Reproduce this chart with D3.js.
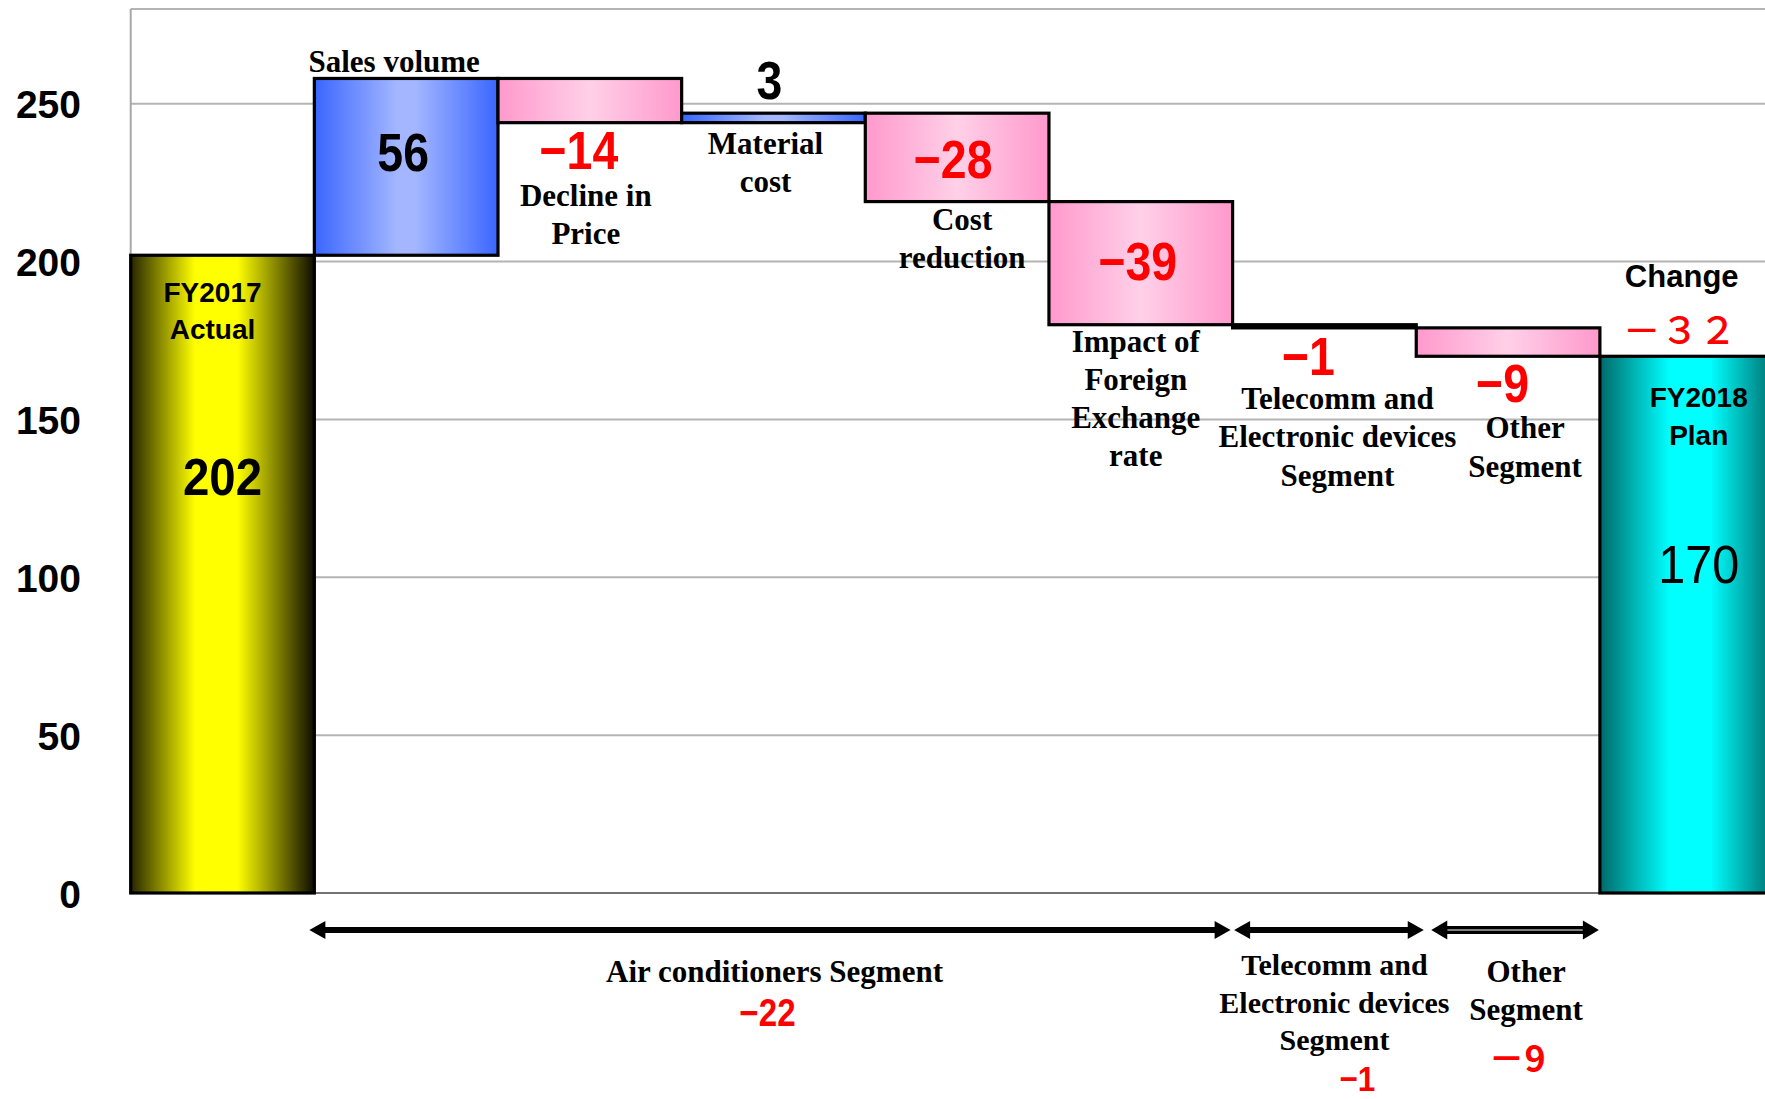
<!DOCTYPE html>
<html>
<head>
<meta charset="utf-8">
<script src="https://cdn.jsdelivr.net/npm/d3@7"></script>
<style>
  html, body { margin: 0; padding: 0; background: #ffffff; }
  svg { display: block; }
</style>
</head>
<body>
<script>
// ---------------- DATA ----------------
const categories = [
  "FY2017 Actual", "Sales volume", "Decline in Price", "Material cost",
  "Cost reduction", "Impact of Foreign Exchange rate",
  "Telecomm and Electronic devices Segment", "Other Segment", "FY2018 Plan"
];
const values = [202, 56, -14, 3, -28, -39, -1, -9, 170];
const kinds = ["total", "delta", "delta", "delta", "delta", "delta", "delta", "delta", "total"];
const categoryLines = [
  ["FY2017", "Actual"], ["Sales volume"], ["Decline in", "Price"], ["Material", "cost"],
  ["Cost", "reduction"], ["Impact of", "Foreign", "Exchange", "rate"],
  ["Telecomm and", "Electronic devices", "Segment"], ["Other", "Segment"], ["FY2018", "Plan"]
];
const yTicks = [0, 50, 100, 150, 200, 250];
const yMax = 280;

const segmentLines = [["Air conditioners Segment"], ["Telecomm and", "Electronic devices", "Segment"], ["Other", "Segment"]];
const segmentValues = [-22, -1, -9];
const segmentStart = [1, 6, 7];
const segmentEnd = [5, 6, 7];

const changeTitle = "Change";
const changeLabel = "－３２";

// ---------------- LAYOUT ----------------
const W = 1765, H = 1099;
const plotLeft = 130.7, plotTop = 9, plotBottom = 893;
const step = 183.65;

const svg = d3.select("body").append("svg").attr("width", W).attr("height", H)
  .style("background", "#fff");

const x = d3.scaleBand().domain(categories)
  .range([plotLeft, plotLeft + step * categories.length]).padding(0);
const y = d3.scaleLinear().domain([0, yMax]).range([plotBottom, plotTop]);

// gradients
const defs = svg.append("defs");
function grad(id, stops) {
  const g = defs.append("linearGradient").attr("id", id)
    .attr("x1", "0%").attr("x2", "100%").attr("y1", "0%").attr("y2", "0%");
  stops.forEach(s => g.append("stop").attr("offset", s[0]).attr("stop-color", s[1]));
}
grad("gYellow", [["0%", "#262600"], ["35%", "#ffff00"], ["58%", "#ffff00"], ["100%", "#0d0d00"]]);
grad("gCyan", [["0%", "#006a6a"], ["38%", "#00ffff"], ["60%", "#00ffff"], ["100%", "#005a5a"]]);
grad("gBlue", [["0%", "#3a66ff"], ["45%", "#a3b6ff"], ["55%", "#a3b6ff"], ["100%", "#3a66ff"]]);
grad("gPink", [["0%", "#ff99cc"], ["50%", "#ffd0e8"], ["100%", "#ff99cc"]]);

// gridlines
const grid = svg.append("g");
grid.selectAll("line.grid").data(yTicks.filter(t => t > 0).concat([yMax])).join("line")
  .attr("x1", plotLeft).attr("x2", W)
  .attr("y1", d => y(d)).attr("y2", d => y(d))
  .attr("stroke", "#b4b4b4").attr("stroke-width", 2);
// left border
grid.append("line").attr("x1", plotLeft).attr("x2", plotLeft)
  .attr("y1", y(yMax)).attr("y2", y(0)).attr("stroke", "#a8a8a8").attr("stroke-width", 2);
// base axis
grid.append("line").attr("x1", plotLeft).attr("x2", W)
  .attr("y1", y(0)).attr("y2", y(0)).attr("stroke", "#444").attr("stroke-width", 1.5);

// y axis labels via d3.axisLeft
const yAxis = d3.axisLeft(y).tickValues(yTicks).tickSize(0).tickPadding(0);
const yAxisG = svg.append("g").attr("transform", `translate(81,0)`).call(yAxis);
yAxisG.select(".domain").remove();
yAxisG.selectAll("text")
  .attr("font-family", "'Liberation Sans', Arial, sans-serif")
  .attr("font-weight", "bold").attr("font-size", 39).attr("fill", "#000")
  .attr("dy", "0.36em");

// compute waterfall extents
let cum = 0;
const bars = values.map((v, i) => {
  let lo, hi;
  if (kinds[i] === "total") { lo = 0; hi = v; cum = v; }
  else { const a = cum, b = cum + v; lo = Math.min(a, b); hi = Math.max(a, b); cum = b; }
  return { cat: categories[i], v, lo, hi, kind: kinds[i], i };
});

function fillOf(d) {
  if (d.kind === "total") return d.i === 0 ? "url(#gYellow)" : "url(#gCyan)";
  return d.v >= 0 ? "url(#gBlue)" : "url(#gPink)";
}

svg.append("g").selectAll("rect.bar").data(bars).join("rect")
  .attr("x", d => x(d.cat))
  .attr("width", x.bandwidth())
  .attr("y", d => y(d.hi))
  .attr("height", d => Math.max(0.5, y(d.lo) - y(d.hi)))
  .attr("fill", fillOf)
  .attr("stroke", "#000").attr("stroke-width", 3.2);

// ---------------- TEXT ----------------
const serif = "'Liberation Serif', 'Times New Roman', serif";
const sans = "'Liberation Sans', Arial, sans-serif";
const cjk = "'Noto Sans CJK JP', 'Noto Sans CJK SC', sans-serif";
const T = svg.append("g");

function txt(str, cx, by, opts) {
  const o = Object.assign({ size: 31, family: serif, weight: "bold", color: "#000", sx: 1 }, opts || {});
  return T.append("text")
    .attr("transform", `translate(${cx},${by}) scale(${o.sx},1)`)
    .attr("text-anchor", "middle")
    .attr("font-family", o.family).attr("font-weight", o.weight)
    .attr("font-size", o.size).attr("fill", o.color)
    .text(str);
}
function lines(arr, cx, by, lh, opts) {
  arr.forEach((s, k) => txt(s, cx, by + k * lh, opts));
}
function valStr(v) { return v < 0 ? "\u2212" + Math.abs(v) : String(v); }
const cxOf = i => x(categories[i]) + x.bandwidth() / 2;

// value labels and category labels for deltas (offsets relative to bar edges)
const deltaLayout = {
  1: { vdx: -3, vref: "hi", vdy: 93, ldx: -12, lref: "hi", ldy: -6.5 },
  2: { vdx: -11, vref: "lo", vdy: 46, ldx: -4, lref: "lo", ldy: 83 },
  3: { vdx: -4, vref: "hi", vdy: -14, ldx: -8, lref: "lo", ldy: 31.5 },
  4: { vdx: -4, vref: "hi", vdy: 65, ldx: 5, lref: "lo", ldy: 28.5 },
  5: { vdx: -3, vref: "hi", vdy: 78.5, ldx: -5, lref: "lo", ldy: 27.5 },
  6: { vdx: -16, vref: "lo", vdy: 47, ldx: 13, lref: "lo", ldy: 81, lh: 38.5 },
  7: { vdx: -5.5, vref: "lo", vdy: 45.5, ldx: 17, lref: "lo", ldy: 82, lh: 38.5 }
};
bars.forEach(d => {
  const L = deltaLayout[d.i];
  if (!L) return;
  const cx = cxOf(d.i);
  const vEdge = y(L.vref === "hi" ? d.hi : d.lo);
  txt(valStr(d.v), cx + L.vdx, vEdge + L.vdy,
      { family: sans, weight: "bold", size: 54, sx: 0.86, color: d.v < 0 ? "#ff0000" : "#000" });
  const lEdge = y(L.lref === "hi" ? d.hi : d.lo);
  lines(categoryLines[d.i], cx + L.ldx, lEdge + L.ldy, L.lh || 38);
});

// totals
{
  const d0 = bars[0], cx0 = cxOf(0);
  lines(categoryLines[0], cx0 - 10, y(d0.hi) + 47, 37, { family: sans, size: 28 });
  txt(String(d0.v), cx0, y(d0.hi) + 240, { family: sans, size: 51, sx: 0.93 });
  const d8 = bars[8], cx8 = cxOf(8);
  lines(categoryLines[8], cx8 + 7, y(d8.hi) + 51, 38, { family: sans, size: 28, weight: "bold" });
  txt(String(d8.v), cx8 + 7, y(d8.hi) + 227, { family: sans, size: 54, weight: "normal", sx: 0.9 });
  txt(changeTitle, cx8 - 10, y(d8.hi) - 69, { family: sans, size: 32, weight: "bold", sx: 0.97 });
  txt(changeLabel, cx8 - 12, y(d8.hi) - 12, { family: cjk, size: 38, weight: 500, color: "#ff0000" });
}

// ---------------- SEGMENT ARROWS ----------------
const arrowY = 930;
const arrowAdj = [[-5, -2], [1.5, 7.5], [15, -1]];
const A = svg.append("g");
segmentStart.forEach((s, k) => {
  const x1 = x(categories[s]) + arrowAdj[k][0];
  const x2 = x(categories[segmentEnd[k]]) + x.bandwidth() + arrowAdj[k][1];
  const hl = 16, hw = k === 2 ? 9.5 : 9;
  const sw = k === 2 ? 8 : 6;
  A.append("line").attr("x1", x1 + hl - 1).attr("x2", x2 - hl + 1)
    .attr("y1", arrowY).attr("y2", arrowY).attr("stroke", "#000").attr("stroke-width", sw);
  if (k === 2) {
    A.append("line").attr("x1", x1 + hl).attr("x2", x2 - hl)
      .attr("y1", arrowY).attr("y2", arrowY).attr("stroke", "#fff").attr("stroke-width", 1.2);
  }
  A.append("path").attr("d", `M${x1},${arrowY} L${x1 + hl},${arrowY - hw} L${x1 + hl},${arrowY + hw} Z`).attr("fill", "#000");
  A.append("path").attr("d", `M${x2},${arrowY} L${x2 - hl},${arrowY - hw} L${x2 - hl},${arrowY + hw} Z`).attr("fill", "#000");
});

// segment labels
const segLayout = [
  { cdx: 1, by: 982, vdx: -7, vby: 1026, vsize: 39, vfam: sans, vsx: 0.85, vw: "bold" },
  { cdx: 10, by: 975, vdx: 23, vby: 1091, vsize: 35, vfam: sans, vsx: 0.9, vw: "bold", lh: 37.5, size: 30 },
  { cdx: 18, by: 982, vdx: -9, vby: 1072, vsize: 36, vfam: cjk, vsx: 1, vw: "bold", full: true }
];
segmentStart.forEach((s, k) => {
  const L = segLayout[k];
  const xa = x(categories[s]), xb = x(categories[segmentEnd[k]]) + x.bandwidth();
  const cx = (xa + xb) / 2 + L.cdx;
  lines(segmentLines[k], cx, L.by, L.lh || 38, { size: L.size || 31 });
  const v = segmentValues[k];
  const s2 = L.full ? "－" + Math.abs(v) : valStr(v);
  txt(s2, cx + L.vdx, L.vby, { family: L.vfam, size: L.vsize, weight: L.vw, sx: L.vsx, color: "#ff0000" });
});
</script>
</body>
</html>
